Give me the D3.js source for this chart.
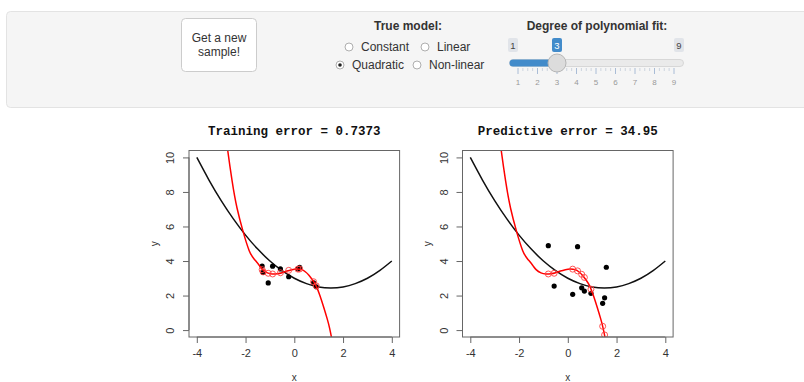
<!DOCTYPE html>
<html>
<head>
<meta charset="utf-8">
<script src="https://cdn.jsdelivr.net/npm/d3@7"></script>
<style>
  body { margin: 0; background: #fff; }
  svg { display: block; }
</style>
</head>
<body>
<svg id="chart" width="804" height="382"></svg>
<script>
// Training sample (black dots) and the fitted values at those x (red rings)
const trainX   = [-1.32, -1.28, -1.07, -0.89, -0.57, -0.23, 0.15, 0.22, 0.79, 0.90];
const trainY   = [ 3.71,  3.34,  2.73,  3.70,  3.54,  3.09, 3.55, 3.63, 2.74, 2.51];
const trainFit = [ 3.50,  3.37,  3.29,  3.25,  3.32,  3.46, 3.53, 3.54, 2.80, 2.56];

// Fresh test sample and the fitted values at those x
const testX   = [-0.80, -0.56, 0.20, 0.40, 0.57, 0.68, 0.95, 1.43, 1.51, 1.58];
const testY   = [ 4.89,  2.55, 2.07, 4.83, 2.45, 2.26, 2.13, 1.55, 1.87, 3.64];
const testFit = [ 3.25,  3.29, 3.53, 3.43, 3.23, 3.05, 2.37, 0.22, -0.28, -0.85];

// Degree-3 polynomial fit, traced along x
const fitX = [-2.80, -2.75, -2.55, -2.35, -2.10, -1.85, -1.65, -1.45, -1.30, -1.10, -0.90, -0.70, -0.50, -0.30, -0.10, 0.10, 0.30, 0.45, 0.60, 0.75, 0.90, 1.05, 1.20, 1.35, 1.45, 1.55, 1.60];
const fitY = [11.20, 10.60,  8.62,  7.07,  5.70,  4.60,  4.12,  3.77,  3.50,  3.31,  3.25,  3.26,  3.32,  3.42,  3.50, 3.54, 3.50, 3.38, 3.18, 2.90, 2.55, 2.00, 1.35, 0.65, 0.10, -0.60, -1.00];

// True quadratic model
const trueX = [-4, -3.5, -3, -2.5, -2, -1.5, -1, -0.5, 0, 0.5, 1, 1.5, 2, 2.5, 3, 3.5, 4];
const trueY = [10, 8.69, 7.5, 6.44, 5.5, 4.69, 4, 3.44, 3, 2.69, 2.5, 2.44, 2.5, 2.69, 3, 3.44, 4];

const xTicks = [-4, -2, 0, 2, 4];
const yTicks = [0, 2, 4, 6, 8, 10];
const panelTitles = ["Training error = 0.7373", "Predictive error = 34.95"];

// Control panel contents
const modelOptions = [
  {label: "Constant",   row: 0, col: 0, checked: false},
  {label: "Linear",     row: 0, col: 1, checked: false},
  {label: "Quadratic",  row: 1, col: 0, checked: true},
  {label: "Non-linear", row: 1, col: 1, checked: false}
];
const degreeMin = 1, degreeMax = 9, degreeValue = 3;
const degreeTicks = [1, 2, 3, 4, 5, 6, 7, 8, 9];

const svg = d3.select("#chart");
const sans = "'Liberation Sans', Helvetica, Arial, sans-serif";
const mono = "'Liberation Mono', 'Courier New', monospace";

// ---------- control well ----------
svg.append("rect")
  .attr("x", 6.5).attr("y", 11.5).attr("width", 820).attr("height", 96)
  .attr("rx", 4).attr("fill", "#f5f5f5").attr("stroke", "#e3e3e3");

// action button
svg.append("rect")
  .attr("x", 181.5).attr("y", 18.5).attr("width", 75).attr("height", 53)
  .attr("rx", 4).attr("fill", "#fff").attr("stroke", "#ccc");
svg.append("text").attr("x", 219).attr("y", 42).attr("text-anchor", "middle")
  .attr("font-family", sans).attr("font-size", 12).attr("fill", "#333").text("Get a new");
svg.append("text").attr("x", 219).attr("y", 56).attr("text-anchor", "middle")
  .attr("font-family", sans).attr("font-size", 12).attr("fill", "#333").text("sample!");

// radio group
svg.append("text").attr("x", 408).attr("y", 30).attr("text-anchor", "middle")
  .attr("font-family", sans).attr("font-size", 12).attr("font-weight", "bold").attr("fill", "#333")
  .text("True model:");

const radioPos = {
  "0,0": 349, "0,1": 425, "1,0": 340, "1,1": 417
};
const radios = svg.append("g").selectAll("g").data(modelOptions).join("g")
  .attr("transform", d => `translate(${radioPos[d.row + "," + d.col]},${d.row === 0 ? 47 : 65})`);
radios.append("circle").attr("r", 4).attr("fill", "#fff").attr("stroke", "#9a9a9a").attr("stroke-width", 0.8);
radios.filter(d => d.checked).append("circle").attr("r", 1.8).attr("fill", "#222");
radios.append("text").attr("x", 12).attr("y", 4.3)
  .attr("font-family", sans).attr("font-size", 12).attr("fill", "#333")
  .text(d => d.label);

// slider
svg.append("text").attr("x", 597).attr("y", 30).attr("text-anchor", "middle")
  .attr("font-family", sans).attr("font-size", 12).attr("font-weight", "bold").attr("fill", "#333")
  .text("Degree of polynomial fit:");

const sx = d3.scaleLinear().domain([degreeMin, degreeMax]).range([518, 674]);
const trackY = 63;
svg.append("rect").attr("x", 509.5).attr("y", trackY - 3.5).attr("width", 174).attr("height", 7)
  .attr("rx", 3.5).attr("fill", "#eaeaea").attr("stroke", "#d0d0d0").attr("stroke-width", 0.8);
svg.append("rect").attr("x", 509.5).attr("y", trackY - 3.5).attr("width", sx(degreeValue) - 509.5).attr("height", 7)
  .attr("rx", 3.5).attr("fill", "#428bca");

// min / value / max badges
const badges = [
  {v: degreeMin, fill: "#e1e4e9", color: "#444"},
  {v: degreeValue, fill: "#428bca", color: "#fff"},
  {v: degreeMax, fill: "#e1e4e9", color: "#444"}
];
const badgeX = v => v === degreeMin ? 513 : v === degreeMax ? 679 : sx(v);
const bg = svg.append("g").selectAll("g").data(badges).join("g")
  .attr("transform", d => `translate(${badgeX(d.v)},45)`);
bg.append("rect").attr("x", -5).attr("y", -7).attr("width", 10).attr("height", 14).attr("rx", 2)
  .attr("fill", d => d.fill);
bg.append("text").attr("y", 3.5).attr("text-anchor", "middle")
  .attr("font-family", sans).attr("font-size", 9.5).attr("fill", d => d.color)
  .text(d => d.v);

// grid ticks
const minorTicks = d3.range(degreeMin, degreeMax, 0.25).filter(v => v % 1 !== 0);
svg.append("g").selectAll("line").data(degreeTicks).join("line")
  .attr("x1", d => sx(d)).attr("x2", d => sx(d)).attr("y1", 68).attr("y2", 74)
  .attr("stroke", "#a9bcd6").attr("stroke-width", 1);
svg.append("g").selectAll("line").data(minorTicks).join("line")
  .attr("x1", d => sx(d)).attr("x2", d => sx(d)).attr("y1", 68).attr("y2", 71)
  .attr("stroke", "#c2cbd8").attr("stroke-width", 0.8);
svg.append("g").selectAll("text").data(degreeTicks).join("text")
  .attr("x", d => sx(d)).attr("y", 85).attr("text-anchor", "middle")
  .attr("font-family", sans).attr("font-size", 8).attr("fill", "#999")
  .text(d => d);

// handle
svg.append("circle").attr("cx", sx(degreeValue)).attr("cy", trackY).attr("r", 9)
  .attr("fill", "#dcdcdc").attr("stroke", "#b5b5b5").attr("stroke-width", 1);

// ---------- plots ----------
const yScale = d3.scaleLinear().domain([-0.4, 10.4]).range([337, 150.5]);

function drawPanel(left, title, xs, ys, fits, id) {
  const width = 210.6;
  const x = d3.scaleLinear().domain([-4.32, 4.32]).range([left, left + width]);
  const g = svg.append("g");

  g.append("clipPath").attr("id", id).append("rect")
    .attr("x", left).attr("y", yScale(10.4)).attr("width", width).attr("height", yScale(-0.4) - yScale(10.4));

  const plot = g.append("g").attr("clip-path", `url(#${id})`);

  const smooth = d3.line().x(d => x(d[0])).y(d => yScale(d[1])).curve(d3.curveNatural);
  plot.append("path").datum(d3.zip(trueX, trueY)).attr("d", smooth)
    .attr("fill", "none").attr("stroke", "#111").attr("stroke-width", 1.5);

  plot.append("g").selectAll("circle").data(d3.zip(xs, ys)).join("circle")
    .attr("cx", d => x(d[0])).attr("cy", d => yScale(d[1])).attr("r", 2.6).attr("fill", "#000");

  plot.append("path").datum(d3.zip(fitX, fitY)).attr("d", smooth)
    .attr("fill", "none").attr("stroke", "#f00").attr("stroke-width", 1.5);

  plot.append("g").selectAll("circle").data(d3.zip(xs, fits)).join("circle")
    .attr("cx", d => x(d[0])).attr("cy", d => yScale(d[1])).attr("r", 3)
    .attr("fill", "none").attr("stroke", "#ff4040").attr("stroke-width", 0.9);

  // frame
  g.append("rect").attr("x", left).attr("y", yScale(10.4)).attr("width", width)
    .attr("height", yScale(-0.4) - yScale(10.4))
    .attr("fill", "none").attr("stroke", "#666").attr("stroke-width", 1);

  // axes
  const xAxis = g.append("g").attr("transform", `translate(0,${yScale(-0.4)})`)
    .call(d3.axisBottom(x).tickValues(xTicks).tickSize(6).tickPadding(6).tickFormat(d3.format("d")));
  xAxis.select(".domain").attr("d", `M${x(-4)},0H${x(4)}`);
  const yAxis = g.append("g").attr("transform", `translate(${left},0)`)
    .call(d3.axisLeft(yScale).tickValues(yTicks).tickSize(6).tickPadding(0).tickFormat(d3.format("d")));
  yAxis.select(".domain").attr("d", `M0,${yScale(0)}V${yScale(10)}`);
  [xAxis, yAxis].forEach(a => {
    a.selectAll("path,line").attr("stroke", "#666");
    a.selectAll("text").attr("font-family", sans).attr("font-size", 11).attr("fill", "#333");
  });
  xAxis.selectAll("text").attr("dy", "0.71em").text(d => d < 0 ? "-" + Math.abs(d) : d);
  yAxis.selectAll("text")
    .attr("x", null).attr("dy", null).attr("text-anchor", "middle")
    .attr("transform", "translate(-19,0) rotate(-90)").attr("y", 4);

  // labels
  g.append("text").attr("x", left + width / 2).attr("y", 135).attr("text-anchor", "middle")
    .attr("font-family", mono).attr("font-size", 12.5).attr("font-weight", "bold").attr("fill", "#111")
    .text(title);
  g.append("text").attr("x", x(0)).attr("y", 381).attr("text-anchor", "middle")
    .attr("font-family", sans).attr("font-size", 10).attr("fill", "#333").text("x");
  g.append("text").attr("transform", `translate(${left - 35},${yScale(5)}) rotate(-90)`)
    .attr("text-anchor", "middle").attr("y", 3.5)
    .attr("font-family", sans).attr("font-size", 10).attr("fill", "#333").text("y");
}

drawPanel(189, panelTitles[0], trainX, trainY, trainFit, "clipTrain");
drawPanel(462.5, panelTitles[1], testX, testY, testFit, "clipTest");
</script>
</body>
</html>
